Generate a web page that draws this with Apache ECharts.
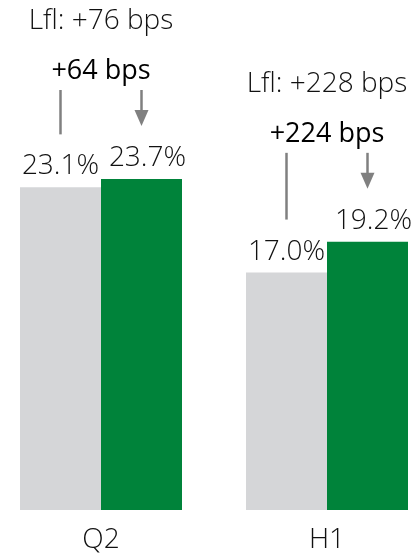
<!DOCTYPE html>
<html>
<head>
<meta charset="utf-8">
<script src="https://cdn.jsdelivr.net/npm/echarts@6/dist/echarts.min.js"></script>
<style>
  html, body { margin: 0; padding: 0; background: #fff; overflow: hidden; }
  /* chart is a little wider than the window so the two category bands line up */
  #chart01 { width: 452px; height: 555px; margin-left: -12px; }
</style>
</head>
<body>
<div id="chart01"></div>
<script>
// margin values, % of sales
var categories = ['Q2', 'H1'];
var priorYear = [23.1, 17.0];
var currentYear = [23.7, 19.2];
var changeBps = [64, 224];
var lflBps = [76, 228];

var FONT = "'Open Sans', 'Noto Sans', sans-serif";
var BAR_W = 81;
var LINE_GRAY = '#808080';

var chart01Dom = document.getElementById('chart01');
var chart01 = echarts.init(chart01Dom, null, { renderer: 'canvas' });

var labelStyle = {
  show: true,
  position: 'top',
  distance: 7,
  fontSize: 28,
  fontWeight: 300,
  fontFamily: FONT,
  color: '#111',
  formatter: function (p) { return p.value.toFixed(1) + '%'; }
};

var option_c01 = {
  animation: false,
  grid: {
    left: 0,
    right: 0,
    top: 91,
    bottom: 45
  },
  xAxis: {
    type: 'category',
    data: categories,
    axisLine: { show: false },
    axisTick: { show: false },
    axisLabel: {
      margin: 16,
      fontSize: 28,
      fontWeight: 300,
      fontFamily: FONT,
      color: '#111'
    }
  },
  yAxis: {
    type: 'value',
    min: 0,
    max: 30,
    show: false,
    splitLine: { show: false }
  },
  series: [
    {
      name: 'Prior year',
      type: 'bar',
      data: priorYear,
      barWidth: BAR_W,
      barGap: '0%',
      itemStyle: { color: '#d5d6d8' },
      label: labelStyle
    },
    {
      name: 'Current year',
      type: 'bar',
      data: currentYear,
      barWidth: BAR_W,
      itemStyle: { color: '#00833a' },
      label: Object.assign({}, labelStyle, { offset: [6, 0] })
    }
  ]
};

chart01.setOption(option_c01);

// bps annotations placed relative to the bars
var elements = [];
categories.forEach(function (cat, i) {
  var cx = chart01.convertToPixel({ xAxisIndex: 0 }, cat);
  var grayX = cx - BAR_W / 2;
  var greenX = cx + BAR_W / 2;
  var grayTop = chart01.convertToPixel({ yAxisIndex: 0 }, priorYear[i]);
  var greenTop = chart01.convertToPixel({ yAxisIndex: 0 }, currentYear[i]);
  var peak = Math.min(grayTop, greenTop);

  elements.push({
    type: 'text',
    x: cx, y: peak - 158,
    style: {
      text: 'Lfl: +' + lflBps[i] + ' bps',
      fontSize: 28, fontWeight: 300, fontFamily: FONT,
      fill: '#111', align: 'center', verticalAlign: 'middle'
    }
  });
  elements.push({
    type: 'text',
    x: cx, y: peak - 108,
    style: {
      text: '+' + changeBps[i] + ' bps',
      fontSize: 27, fontWeight: 400, fontFamily: FONT,
      fill: '#000', align: 'center', verticalAlign: 'middle'
    }
  });
  // plain line over the prior-year bar
  elements.push({
    type: 'line',
    shape: { x1: grayX, y1: peak - 89, x2: grayX, y2: grayTop - 53 },
    style: { stroke: LINE_GRAY, lineWidth: 2.5 }
  });
  // arrow over the current-year bar
  var tip = greenTop - 53;
  elements.push({
    type: 'line',
    shape: { x1: greenX, y1: peak - 89, x2: greenX, y2: tip - 12 },
    style: { stroke: LINE_GRAY, lineWidth: 2.5 }
  });
  elements.push({
    type: 'polygon',
    shape: { points: [[greenX - 7, tip - 16], [greenX + 7, tip - 16], [greenX, tip]] },
    style: { fill: LINE_GRAY }
  });
});

chart01.setOption({ graphic: { elements: elements } });
</script>
</body>
</html>
